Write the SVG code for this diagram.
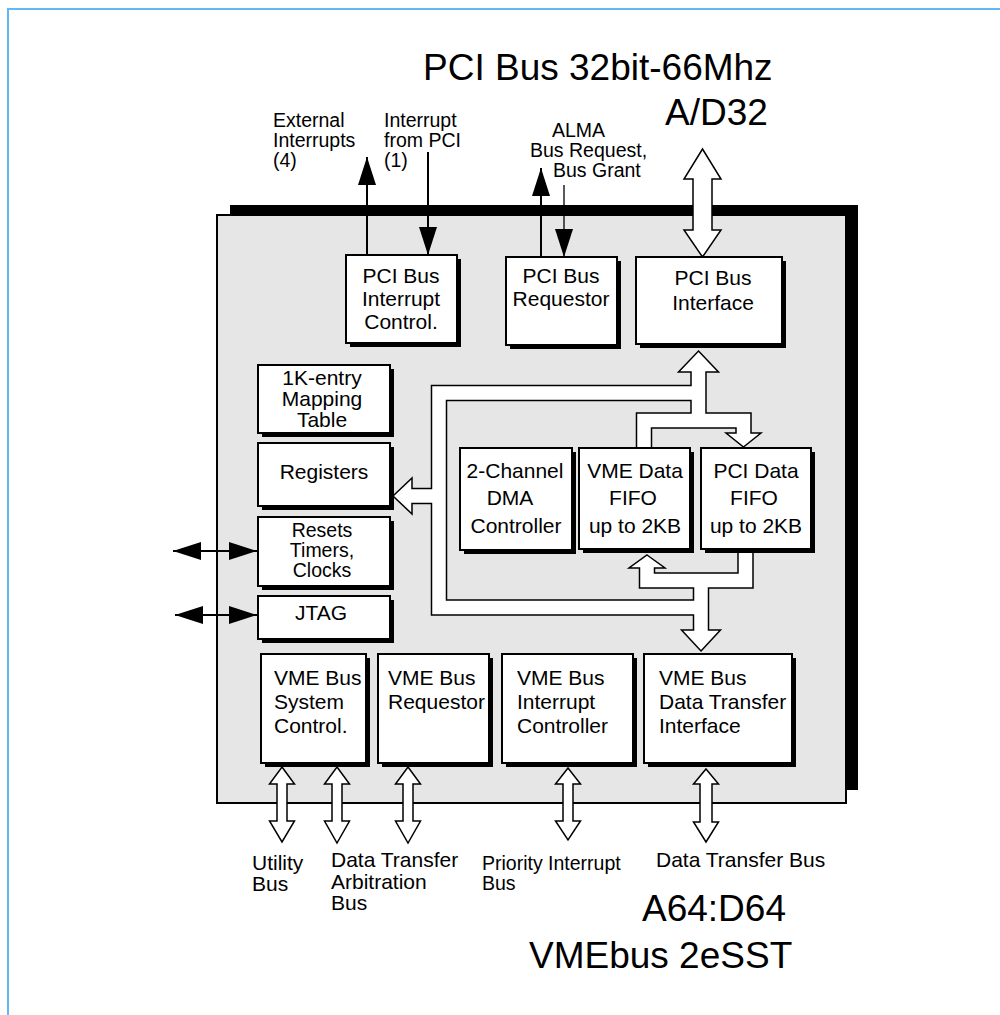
<svg xmlns="http://www.w3.org/2000/svg" width="1000" height="1015" viewBox="0 0 1000 1015">
<style>
  text { font-family: "Liberation Sans", Arial, Helvetica, sans-serif; fill: #000; }
  .s { font-size: 21px; }
  .t { font-size: 19.5px; }
  .big { font-size: 37px; }
  .c { text-anchor: middle; }
  .box { fill: #fff; stroke: #000; stroke-width: 2; }
  .shadow { fill: #000; }
  .wire { fill: none; stroke: #000; stroke-width: 2; }
  .busK { fill: none; stroke: #000; stroke-width: 16.5; stroke-linejoin: miter; stroke-linecap: butt; }
  .busW { fill: none; stroke: #fff; stroke-width: 13.5; stroke-linejoin: miter; stroke-linecap: butt; }
  .headK { fill: #fff; stroke: #000; stroke-width: 1.5; stroke-linejoin: miter; }
  .hollow { fill: #fff; stroke: #000; stroke-width: 1.5; stroke-linejoin: miter; }
</style>
<defs>
  <marker id="ah" viewBox="0 0 28 18" refX="28" refY="9" markerWidth="28" markerHeight="18" markerUnits="userSpaceOnUse" orient="auto-start-reverse">
    <path d="M0,0 L28,9 L0,18 z" fill="#000"/>
  </marker>
</defs>

<rect x="8" y="9" width="1010" height="1030" fill="#fff" stroke="#62b8f3" stroke-width="2"/>

<g id="chip">
  <rect x="230" y="205" width="628" height="585" fill="#000"/>
  <rect x="217" y="215" width="629" height="588" fill="#e6e6e6" stroke="#000" stroke-width="2"/>
</g>

<g id="connectors">
  <g>
    <path class="busK" d="M698.5 366 V420.5"/>
    <path class="busK" d="M698.5 393 H439 V607.5 H701"/>
    <path class="busK" d="M439 496 H408"/>
    <path class="busK" d="M644 449 V420.5 H743.5 V438"/>
    <path class="busK" d="M745.5 549 V580.5 H647 V563"/>
    <path class="busK" d="M701 580.5 V635"/>
    <polygon class="headK" points="698.5,351 718.5,372 678.5,372"/>
    <polygon class="headK" points="393,496 412,478 412,514"/>
    <polygon class="headK" points="743.5,447 761,433 726,433"/>
    <polygon class="headK" points="647,555 665,568 629,568"/>
    <polygon class="headK" points="701,651 720.5,630 681.5,630"/>
  </g>
  <g>
    <path class="busW" d="M698.5 366 V420.5"/>
    <path class="busW" d="M698.5 393 H439 V607.5 H701"/>
    <path class="busW" d="M439 496 H408"/>
    <path class="busW" d="M644 449 V420.5 H743.5 V438"/>
    <path class="busW" d="M745.5 549 V580.5 H647 V563"/>
    <path class="busW" d="M701 580.5 V635"/>
  </g>

  <polygon class="hollow" points="702.5,149 721,179 712,179 712,230 721,230 702.5,257 684,230 693,230 693,179 684,179"/>

  <polygon class="hollow" points="282,767 294.5,784 287,784 287,821 294.5,821 282,842 269.5,821 277,821 277,784 269.5,784"/>
  <polygon class="hollow" points="337,767 349.5,784 342,784 342,821 349.5,821 337,843 324.5,821 332,821 332,784 324.5,784"/>
  <polygon class="hollow" points="408,767 420.5,784 413,784 413,821 420.5,821 408,843 395.5,821 403,821 403,784 395.5,784"/>
  <polygon class="hollow" points="568,768 580.5,784 573,784 573,821 580.5,821 568,840 555.5,821 563,821 563,784 555.5,784"/>
  <polygon class="hollow" points="706,769 718.5,784 712,784 712,822 718.5,822 706,842 693.5,822 700,822 700,784 693.5,784"/>

  <path class="wire" d="M367 255 V157" marker-end="url(#ah)"/>
  <path class="wire" d="M428 152 V255" marker-end="url(#ah)"/>
  <path class="wire" d="M541 257 V168" marker-end="url(#ah)"/>
  <path class="wire" d="M564 185 V257" style="stroke-width:1.3" marker-end="url(#ah)"/>
  <path class="wire" d="M173 551 H257" marker-start="url(#ah)" marker-end="url(#ah)"/>
  <path class="wire" d="M175 615 H257" marker-start="url(#ah)" marker-end="url(#ah)"/>
</g>

<g id="node-pci-int">
  <rect class="shadow" x="350" y="259" width="111" height="88"/>
  <rect class="box" x="346" y="255" width="111" height="88"/>
  <text class="s c" x="401" y="283">PCI Bus</text>
  <text class="s c" x="401" y="306">Interrupt</text>
  <text class="s c" x="401" y="329">Control.</text>
</g>
<g id="node-pci-req">
  <rect class="shadow" x="510" y="261" width="111" height="88"/>
  <rect class="box" x="506" y="257" width="111" height="88"/>
  <text class="s c" x="561" y="283">PCI Bus</text>
  <text class="s c" x="561" y="306">Requestor</text>
</g>
<g id="node-pci-if">
  <rect class="shadow" x="640" y="261" width="146" height="87"/>
  <rect class="box" x="636" y="257" width="146" height="87"/>
  <text class="s c" x="713" y="285">PCI Bus</text>
  <text class="s c" x="713" y="310">Interface</text>
</g>
<g id="node-map">
  <rect class="shadow" x="262" y="369" width="132" height="68"/>
  <rect class="box" x="258" y="365" width="132" height="68"/>
  <text class="s c" x="322" y="385">1K-entry</text>
  <text class="s c" x="322" y="406">Mapping</text>
  <text class="s c" x="322" y="427">Table</text>
</g>
<g id="node-regs">
  <rect class="shadow" x="262" y="447" width="132" height="63"/>
  <rect class="box" x="258" y="443" width="132" height="63"/>
  <text class="s c" x="324" y="479">Registers</text>
</g>
<g id="node-resets">
  <rect class="shadow" x="262" y="521" width="132" height="69"/>
  <rect class="box" x="258" y="517" width="132" height="69"/>
  <text class="t c" x="322" y="537">Resets</text>
  <text class="t c" x="322" y="557">Timers,</text>
  <text class="t c" x="322" y="577">Clocks</text>
</g>
<g id="node-jtag">
  <rect class="shadow" x="262" y="600" width="132" height="43"/>
  <rect class="box" x="258" y="596" width="132" height="43"/>
  <text class="s c" x="321" y="620">JTAG</text>
</g>
<g id="node-dma">
  <rect class="shadow" x="464" y="452" width="112" height="102"/>
  <rect class="box" x="460" y="448" width="112" height="102"/>
  <text class="s c" x="515" y="478">2-Channel</text>
  <text class="s c" x="510" y="505">DMA</text>
  <text class="s c" x="516" y="533">Controller</text>
</g>
<g id="node-vme-fifo">
  <rect class="shadow" x="583" y="452" width="111" height="101"/>
  <rect class="box" x="579" y="448" width="111" height="101"/>
  <text class="s c" x="635" y="478">VME Data</text>
  <text class="s c" x="633" y="505">FIFO</text>
  <text class="s c" x="635" y="533">up to 2KB</text>
</g>
<g id="node-pci-fifo">
  <rect class="shadow" x="705" y="452" width="110" height="101"/>
  <rect class="box" x="701" y="448" width="110" height="101"/>
  <text class="s c" x="756" y="478">PCI Data</text>
  <text class="s c" x="754" y="505">FIFO</text>
  <text class="s c" x="756" y="533">up to 2KB</text>
</g>
<g id="node-vme-sys">
  <rect class="shadow" x="265" y="658" width="105" height="109"/>
  <rect class="box" x="261" y="654" width="105" height="109"/>
  <text class="s" x="274" y="685">VME Bus</text>
  <text class="s" x="274" y="709">System</text>
  <text class="s" x="274" y="733">Control.</text>
</g>
<g id="node-vme-req">
  <rect class="shadow" x="382" y="658" width="111" height="109"/>
  <rect class="box" x="378" y="654" width="111" height="109"/>
  <text class="s" x="388" y="685">VME Bus</text>
  <text class="s" x="388" y="709">Requestor</text>
</g>
<g id="node-vme-irq">
  <rect class="shadow" x="506" y="658" width="131" height="109"/>
  <rect class="box" x="502" y="654" width="131" height="109"/>
  <text class="s" x="517" y="685">VME Bus</text>
  <text class="s" x="517" y="709">Interrupt</text>
  <text class="s" x="517" y="733">Controller</text>
</g>
<g id="node-vme-dti">
  <rect class="shadow" x="648" y="658" width="148" height="109"/>
  <rect class="box" x="644" y="654" width="148" height="109"/>
  <text class="s" x="659" y="685">VME Bus</text>
  <text class="s" x="659" y="709">Data Transfer</text>
  <text class="s" x="659" y="733">Interface</text>
</g>

<g id="labels">
  <text class="big" x="423" y="80">PCI Bus 32bit-66Mhz</text>
  <text class="big" x="665" y="125">A/D32</text>
  <text class="t" x="273" y="127">External</text>
  <text class="t" x="273" y="147">Interrupts</text>
  <text class="t" x="273" y="167">(4)</text>
  <text class="t" x="384" y="127">Interrupt</text>
  <text class="t" x="384" y="147">from PCI</text>
  <text class="t" x="384" y="167">(1)</text>
  <text class="t" x="552" y="137">ALMA</text>
  <text class="t" x="530" y="157">Bus Request,</text>
  <text class="t" x="553" y="177">Bus Grant</text>
  <text class="s" x="252" y="870">Utility</text>
  <text class="s" x="252" y="891">Bus</text>
  <text class="s" x="331" y="867">Data Transfer</text>
  <text class="s" x="331" y="889">Arbitration</text>
  <text class="s" x="331" y="910">Bus</text>
  <text class="t" x="482" y="870">Priority Interrupt</text>
  <text class="t" x="482" y="890">Bus</text>
  <text class="s" x="656" y="867">Data Transfer Bus</text>
  <text class="big" x="642" y="921">A64:D64</text>
  <text class="big" x="529" y="968">VMEbus 2eSST</text>
</g>
</svg>
